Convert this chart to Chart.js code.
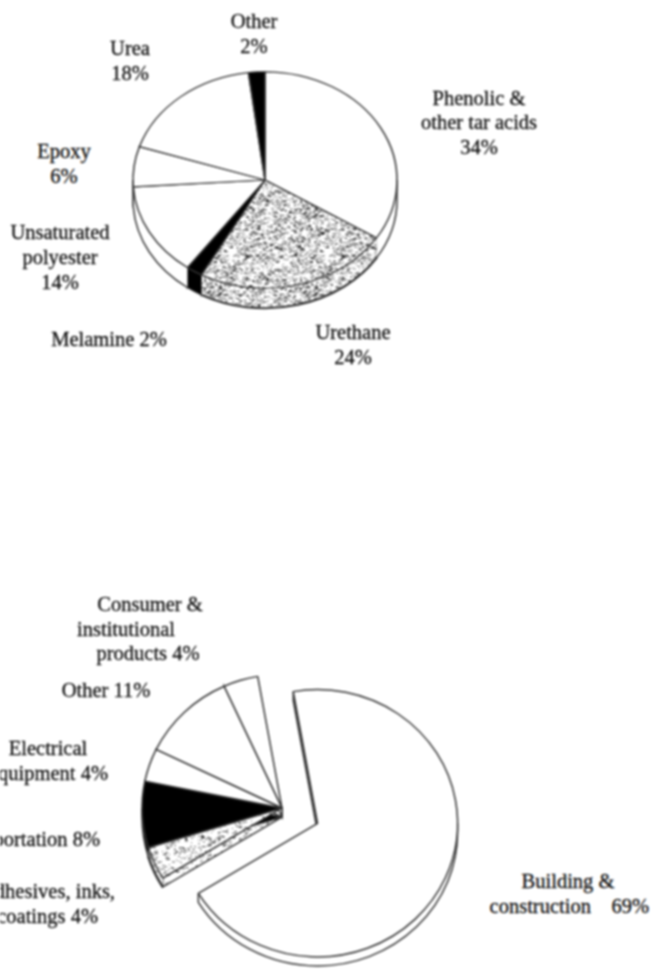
<!DOCTYPE html>
<html>
<head>
<meta charset="utf-8">
<title>Pie charts</title>
<script src="https://cdn.jsdelivr.net/npm/chart.js@4"></script>
<style>
html, body { margin: 0; padding: 0; background: #fff; }
#page { position: relative; width: 651px; height: 970px; overflow: hidden; background: #fff; filter: blur(0.8px); }
canvas { position: absolute; }
.lbl { position: absolute; white-space: pre; font: 20.5px/1 "Liberation Serif", serif; color: #111; -webkit-text-stroke: 0.3px #111; }
</style>
</head>
<body>
<div id="page">
    <canvas id="pie__resins" width="340" height="340" style="left:95px;top:10px"></canvas>
    <canvas id="pie__markets" width="400" height="400" style="left:82px;top:608px"></canvas>
</div>
<script>
// data
const resinNames = ['Phenolic & other tar acids', 'Urethane', 'Melamine', 'Unsaturated polyester', 'Epoxy', 'Urea', 'Other'];
const resinValues = [34, 24, 2, 14, 6, 18, 2];
const marketNames = ['Building & construction', 'Adhesives, inks, & coatings', 'Transportation', 'Electrical equipment', 'Other', 'Consumer & institutional products'];
const marketValues = [69, 4, 8, 4, 11, 4];
const marketExplode = [39, 0, 0, 0, 0, 0];

const resinLabels = ['Other', '2%', 'Urea', '18%', 'Phenolic &', 'other tar acids', '34%', 'Epoxy', '6%', 'Unsaturated', 'polyester', '14%', 'Melamine 2%', 'Urethane', '24%'];
const marketLabels = ['Consumer &', 'institutional', 'products 4%', 'Other 11%', 'Electrical', 'equipment 4%', 'Transportation 8%', 'Adhesives, inks,', '& coatings 4%', 'Building &', 'construction    69%'];

// label placement: x, y of the line middle, c = centred on x, r = right end at x
const resinPlaces = [[254,21,'c'],[254,46,'c'],[130,48,'c'],[130,73,'c'],[479,98,'c'],[479,122,'c'],[479,147,'c'],[64,151,'c'],[64,176,'c'],[60,232,'c'],[60,257,'c'],[60,282,'c'],[109,339,'c'],[353,332,'c'],[353,357,'c']];
const marketPlaces = [[150,604,'c'],[126,629,'c'],[148,653,'c'],[106,690,'c'],[48,748,'c'],[108,773,'r'],[100,839,'r'],[115,891,'r'],[98,916,'r'],[568,881,'c'],[649,906,'r']];

function placeLabels(texts, places) {
    const page = document.getElementById('page');
    texts.forEach((t, i) => {
        const el = document.createElement('div');
        el.className = 'lbl';
        el.textContent = t;
        const [x, y, align] = places[i];
        el.style.top = y + 'px';
        el.style.left = x + 'px';
        el.style.transform = align === 'c' ? 'translate(-50%,-50%)' : 'translate(-100%,-50%)';
        page.appendChild(el);
    });
}
placeLabels(resinLabels, resinPlaces);
placeLabels(marketLabels, marketPlaces);

// scanned looking stipple, fixed sequence so every run is the same
function stipple(amount, darkAmount) {
    const c = document.createElement('canvas');
    c.width = c.height = 96;
    const g = c.getContext('2d');
    g.fillStyle = '#fff';
    g.fillRect(0, 0, 96, 96);
    let s = 12345;
    const next = (n) => {
        s = (Math.imul(s, 1664525) + 1013904223) | 0;
        return ((s >>> 20) * n) >>> 12;
    };
    g.fillStyle = '#5a5a5a';
    for (let i = 0; i < amount; i++) {
        g.fillRect(next(96), next(96), 1 + next(3), 1);
    }
    g.fillStyle = '#111';
    for (let i = 0; i < darkAmount; i++) {
        g.fillRect(next(96), next(96), 1 + next(4), 1);
    }
    return g.createPattern(c, 'repeat');
}
const stippleDark = stipple(1300, 160);
const stippleLight = stipple(700, 60);

// side wall of a tilted slice, built from the arc element the library laid out
function drawFaces(ctx, arc, depth) {
    const {x, y, startAngle: a0, endAngle: a1, outerRadius: r} = arc;
    ctx.fillStyle = arc.options.backgroundColor;
    ctx.strokeStyle = arc.options.borderColor;
    ctx.lineWidth = arc.options.borderWidth;
    const face = (t) => {
        ctx.beginPath();
        ctx.moveTo(x, y);
        ctx.lineTo(x + r * Math.cos(t), y + r * Math.sin(t));
        ctx.lineTo(x + r * Math.cos(t), y + depth + r * Math.sin(t));
        ctx.lineTo(x, y + depth);
        ctx.closePath();
        ctx.fill();
        ctx.stroke();
    };
    if (-Math.cos(a0) > 0) face(a0);
    if (Math.cos(a1) > 0) face(a1);
}

function drawWall(ctx, arc, depth, closeEnd) {
    const {x, y, startAngle: a0, endAngle: a1, outerRadius: r} = arc;
    const bg = arc.options.backgroundColor;
    ctx.fillStyle = bg;
    ctx.strokeStyle = arc.options.borderColor;
    for (let k = -1; k <= 1; k++) {
        const low = k * 2 * Math.PI;
        const high = low + Math.PI;
        const s = Math.max(a0, low);
        const e = Math.min(a1, high);
        if (e <= s) continue;
        ctx.beginPath();
        ctx.arc(x, y, r, s, e);
        ctx.arc(x, y + depth, r, e, s, true);
        ctx.closePath();
        ctx.fill();
        // lower rim, plus the upright where the wall meets the silhouette or a cut end
        ctx.lineWidth = typeof bg === 'string' ? arc.options.borderWidth : 2.5;
        ctx.beginPath();
        if (a0 <= low) ctx.moveTo(x + r * Math.cos(s), y + r * Math.sin(s));
        ctx.arc(x, y + depth, r, s, e);
        if (a1 >= high || closeEnd) ctx.lineTo(x + r * Math.cos(e), y + r * Math.sin(e));
        ctx.stroke();
    }
}

const tiltPlugin = {
    id: 'tilt',
    afterDatasetsUpdate(chart, args, opts) {
        // the offset option also grows a slice wider than 180deg, so move it here
        chart.getDatasetMeta(0).data.forEach((arc, i) => {
            const d = (opts.explode || [])[i] || 0;
            const mid = (arc.startAngle + arc.endAngle) / 2;
            arc.x += Math.cos(mid) * d;
            arc.y += Math.sin(mid) * d;
        });
    },
    beforeDatasetsDraw(chart, args, opts) {
        const ctx = chart.ctx;
        const cx = (chart.chartArea.left + chart.chartArea.right) / 2;
        const cy = (chart.chartArea.top + chart.chartArea.bottom) / 2;
        ctx.save();
        ctx.translate(cx, cy);
        ctx.scale(1, opts.tilt);
        ctx.translate(-cx, -cy);
        const arcs = chart.getDatasetMeta(0).data;
        arcs.forEach(arc => drawFaces(ctx, arc, opts.depth / opts.tilt));
        arcs.forEach((arc, i) => drawWall(ctx, arc, opts.depth / opts.tilt, (opts.explode || [])[i] > 0));
    },
    afterDatasetsDraw(chart) {
        chart.ctx.restore();
    }
};

// Resins
let ctx__resins = document.getElementById('pie__resins').getContext('2d');
new Chart(ctx__resins, {
    type: 'pie',
    data: {
        labels: resinNames,
        datasets: [{
            data: resinValues,
            backgroundColor: ['#fff', stippleDark, '#000', '#fff', '#fff', '#fff', '#000'],
            borderColor: '#333',
            borderWidth: 1.5
        }]
    },
    options: {
        responsive: false,
        animation: false,
        events: [],
        radius: 132,
        plugins: {
            legend: { display: false },
            tooltip: { enabled: false },
            tilt: { tilt: 0.82, depth: 20 }
        }
    },
    plugins: [tiltPlugin]
});

// Markets
let ctx__markets = document.getElementById('pie__markets').getContext('2d');
new Chart(ctx__markets, {
    type: 'pie',
    data: {
        labels: marketNames,
        datasets: [{
            data: marketValues,
            backgroundColor: ['#fff', stippleLight, '#000', '#fff', '#fff', '#fff'],
            borderColor: '#333',
            borderWidth: 1.5
        }]
    },
    options: {
        responsive: false,
        animation: false,
        events: [],
        radius: 140,
        rotation: -10,
        plugins: {
            legend: { display: false },
            tooltip: { enabled: false },
            tilt: { tilt: 0.955, depth: 9, explode: marketExplode }
        }
    },
    plugins: [tiltPlugin]
});
</script>
</body>
</html>
